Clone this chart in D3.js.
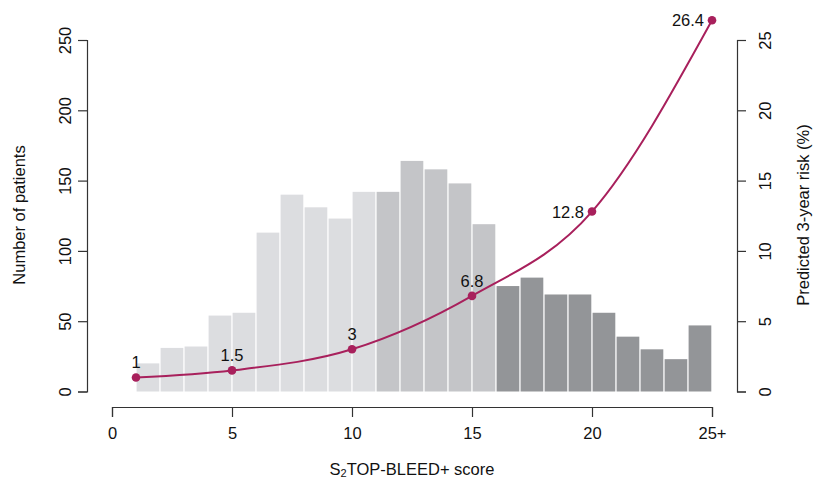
<!DOCTYPE html>
<html><head><meta charset="utf-8">
<script src="https://cdn.jsdelivr.net/npm/d3@7"></script>
<style>
body{margin:0;background:#fff;}
text{font-family:"Liberation Sans",Arial,sans-serif;fill:#111;}
</style></head>
<body>
<svg id="c" width="814" height="481"></svg>
<script>
const scores = [1,2,3,4,5,6,7,8,9,10,11,12,13,14,15,16,17,18,19,20,21,22,23,24];
const patients = [20,31,32,54,56,113,140,131,123,142,142,164,158,148,119,75,81,69,69,56,39,30,23,47];
const groups = ["low","low","low","low","low","low","low","low","low","low","mid","mid","mid","mid","mid","high","high","high","high","high","high","high","high","high"];
const riskScores = [1,5,10,15,20,25];
const riskValues = [1,1.5,3,6.8,12.8,26.4];
const riskLabels = ["1","1.5","3","6.8","12.8","26.4"];
const xTicks = [0,5,10,15,20,25];
const xTickLabels = ["0","5","10","15","20","25+"];
const leftTicks = [0,50,100,150,200,250];
const rightTicks = [0,5,10,15,20,25];

const colors = {low:"#dcdde0", mid:"#c4c5c8", high:"#939598"};
const lineColor = "#a8205c";
const fs = "16.5px";

const svg = d3.select("#c");
const x = d3.scaleLinear().domain([0,25]).range([112,712]);
const yL = d3.scaleLinear().domain([0,250]).range([391.5,40]);
const yR = d3.scaleLinear().domain([0,25]).range([391.5,40]);

// bars
svg.append("g").selectAll("rect").data(scores).join("rect")
  .attr("x", d=>x(d)+0.6)
  .attr("width", d=>x(d+1)-x(d)-1.3)
  .attr("y", (d,i)=>yL(patients[i]))
  .attr("height", (d,i)=>yL(0)-yL(patients[i]))
  .attr("fill", (d,i)=>colors[groups[i]]);

// axes
const axStyle = g=>{
  g.selectAll(".domain").attr("stroke","#333").attr("stroke-width",1.2);
  g.selectAll(".tick line").attr("stroke","#333").attr("stroke-width",1.2);
  g.selectAll(".tick text").attr("font-size",fs).attr("fill","#111")
    .attr("font-family","Liberation Sans, Arial, sans-serif");
};
const gx = svg.append("g").attr("transform","translate(0,407)")
  .call(d3.axisBottom(x).tickValues(xTicks).tickFormat((d,i)=>xTickLabels[i]).tickSize(10).tickSizeOuter(10).tickPadding(10));
axStyle(gx);

const gl = svg.append("g").attr("transform","translate(87,0)")
  .call(d3.axisLeft(yL).tickValues(leftTicks).tickSize(9).tickSizeOuter(9).tickPadding(0));
axStyle(gl);
gl.selectAll(".tick text").attr("text-anchor","middle").attr("x",0).attr("dy",0)
  .attr("transform","translate(-22,0) rotate(-90)").attr("dominant-baseline","central");

const gr = svg.append("g").attr("transform","translate(737,0)")
  .call(d3.axisRight(yR).tickValues(rightTicks).tickSize(9).tickSizeOuter(9).tickPadding(0));
axStyle(gr);
gr.selectAll(".tick text").attr("text-anchor","middle").attr("x",0).attr("dy",0)
  .attr("transform","translate(28,0) rotate(-90)").attr("dominant-baseline","central");

// titles
svg.append("text").attr("transform","translate(19,215) rotate(-90)")
  .attr("text-anchor","middle").attr("dominant-baseline","central").attr("font-size",fs).text("Number of patients");
svg.append("text").attr("transform","translate(803,215) rotate(-90)")
  .attr("text-anchor","middle").attr("dominant-baseline","central").attr("font-size",fs).text("Predicted 3-year risk (%)");
const t = svg.append("text").attr("x",412).attr("y",475).attr("text-anchor","middle").attr("font-size",fs);
t.append("tspan").text("S");
t.append("tspan").attr("font-size","11px").attr("dy",2).text("2");
t.append("tspan").attr("dy",-2).text("TOP-BLEED+ score");

// risk line
const pts = riskScores.map((s,i)=>[x(s), yR(riskValues[i])]);
svg.append("path").attr("d", d3.line().curve(d3.curveMonotoneX)(pts))
  .attr("fill","none").attr("stroke",lineColor).attr("stroke-width",2);
svg.append("g").selectAll("circle").data(pts).join("circle")
  .attr("cx",d=>d[0]).attr("cy",d=>d[1]).attr("r",4.3).attr("fill",lineColor);

// labels
svg.append("g").selectAll("text").data(riskLabels).join("text")
  .attr("font-size",fs)
  .attr("x",(d,i)=> i>=4 ? pts[i][0]-8 : pts[i][0])
  .attr("y",(d,i)=> i>=4 ? pts[i][1] : pts[i][1]-9)
  .attr("text-anchor",(d,i)=> i>=4 ? "end" : "middle")
  .attr("dominant-baseline",(d,i)=> i>=4 ? "central" : "auto")
  .text(d=>d);
</script>
</body></html>
